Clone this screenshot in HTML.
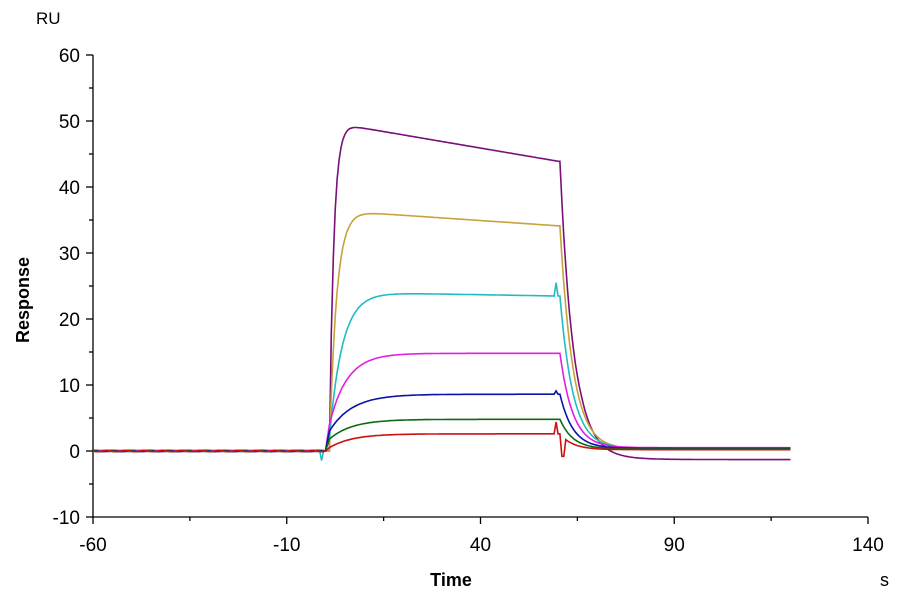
<!DOCTYPE html>
<html><head><meta charset="utf-8"><style>
html,body{margin:0;padding:0;background:#fff;}
svg{display:block;font-family:"Liberation Sans",Arial,sans-serif;}
</style></head><body>
<svg id="c" width="900" height="600" viewBox="0 0 900 600">
<g stroke="#000" stroke-width="1.3" fill="none">
<line x1="93" y1="55" x2="93" y2="518"/>
<line x1="93" y1="517" x2="868" y2="517"/>
<g id="ticks"></g>
</g>
<g font-size="19" fill="#000" text-anchor="end" id="ylab"></g>
<g font-size="19" fill="#000" text-anchor="middle" id="xlab"></g>
<text x="36" y="24" font-size="17">RU</text>
<text x="29" y="300" font-size="18" font-weight="bold" text-anchor="middle" transform="rotate(-90 29 300)">Response</text>
<text x="451" y="586" font-size="18" font-weight="bold" text-anchor="middle">Time</text>
<text x="880" y="586" font-size="18">s</text>
<g id="curves" fill="none" stroke-width="1.6"></g>
</svg>
<script>
var X=function(t){return 93+(t+60)*3.875},Y=function(v){return 451-v*6.6};
var ns="http://www.w3.org/2000/svg",tk=document.getElementById("ticks");
function el(p,n,a){var e=document.createElementNS(ns,n);for(var k in a)e.setAttribute(k,a[k]);p.appendChild(e);return e;}
for(var v=-10;v<=60;v+=5){var y=Y(v);el(tk,"line",{x1:v%10==0?86:89,y1:y,x2:93,y2:y});
 if(v%10==0){var t=el(document.getElementById("ylab"),"text",{x:80,y:y+7});t.textContent=v;}}
for(var s=-60;s<=140;s+=25){var x=X(s);el(tk,"line",{x1:x,y1:517,x2:x,y2:(s+60)%50==0?524:521});
 if((s+60)%50==0){var t=el(document.getElementById("xlab"),"text",{x:x,y:551});t.textContent=s;}}
var C=[
 {c:"#7a0f7a",R:49.3,k:0.9,j:0,dr:-0.1,end:0,fin:-1.3},
 {c:"#c9a13a",R:36.2,k:0.55,j:0,dr:-0.04,end:0.3},
 {c:"#20bcc0",R:24,k:0.3,j:2,dr:-0.01,end:0.4,sp:2},
 {c:"#e020e0",R:14.8,k:0.22,j:4,dr:0,end:0.5},
 {c:"#0a12a8",R:8.6,k:0.17,j:3,dr:0,end:0.4,sp:0.5},
 {c:"#0b6b12",R:4.8,k:0.17,j:1.8,dr:0,end:0.3},
 {c:"#cc1010",R:2.6,k:0.17,j:0.5,dr:0,end:0.2,sp:1.8}
];
C.forEach(function(o,i){
 var d="";
 for(var t=-60;t<=120;t+=0.5){var v;
  if(t<0){v=0.1*Math.sin(t*1.3+i)+(t>-1.5&&t<-0.5&&i==2?-1.5:0);}
  else if(t<=60){var tt=Math.max(t-1,0);var base=o.j+(o.R-o.j)*(1-Math.exp(-o.k*tt));if(t<1)base=o.j*t;
   v=base+o.dr*Math.max(t-8,0);
   if(i==0)v=49.3*(1-Math.exp(-0.9*tt))-0.1*Math.max(t-6,0);
   if(o.sp&&t==59.5)v+=o.sp;}
  else{var v60=(i==0?49.3-0.1*54:o.R+o.dr*52);var dt=t-60;
   v=o.end+(v60-o.end)*Math.exp(-0.3*Math.max(dt-0.5,0));
   if(dt<0.5)v=v60;
   if(i==6&&dt>=1&&dt<=1.5)v=-0.8;
   if(o.fin!==undefined&&t>66)v+=(o.fin-o.end)*(1-Math.exp(-0.15*(t-66)));}
  d+=(d?"L":"M")+X(t).toFixed(1)+","+Y(v).toFixed(1);}
 el(document.getElementById("curves"),"path",{d:d,stroke:o.c});
});
</script>
</body></html>
